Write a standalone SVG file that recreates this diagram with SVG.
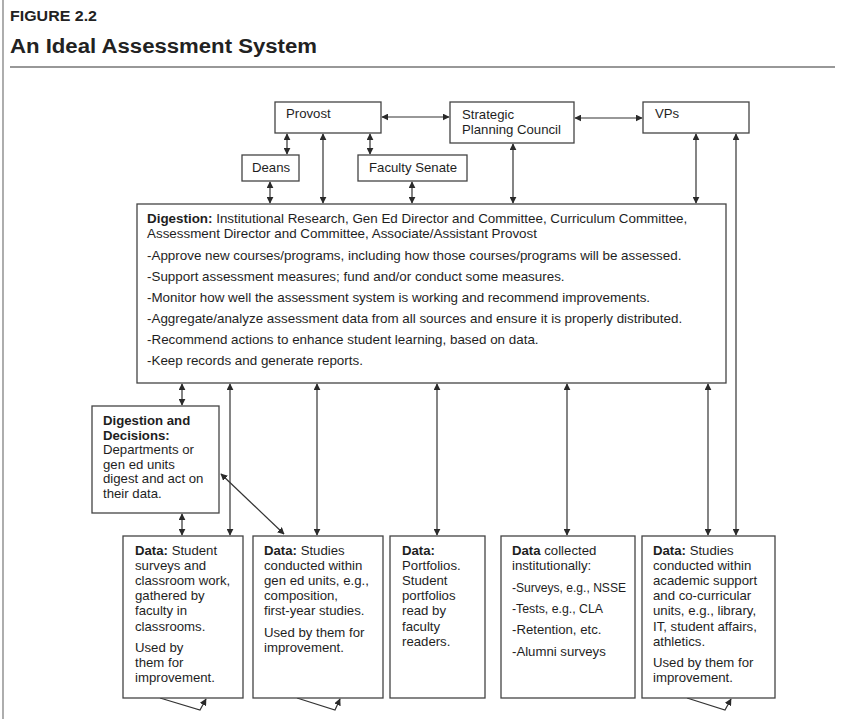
<svg xmlns="http://www.w3.org/2000/svg" width="841" height="719" viewBox="0 0 841 719">
<defs>
<marker id="ah" viewBox="0 0 10 10" refX="9" refY="5" markerWidth="7" markerHeight="7" markerUnits="userSpaceOnUse" orient="auto-start-reverse">
<path d="M0,0 L10,5 L0,10 Z" fill="#2a2a2a"/>
</marker>
</defs>
<style>
.box{fill:#fff;stroke:#444;stroke-width:1.3}
.t{font-family:"Liberation Sans",Arial,sans-serif;font-size:13.2px;fill:#1e1e1e}
.d{font-size:13.4px}
.b{font-weight:bold}
.c{fill:none;stroke:#333;stroke-width:1.2}
</style>
<rect x="0" y="0" width="841" height="719" fill="#fff"/>
<line x1="3" y1="0" x2="3" y2="719" stroke="#777" stroke-width="1.2"/>
<text x="10" y="21" font-family="Liberation Sans, Arial, sans-serif" font-size="14" font-weight="bold" fill="#222" textLength="87" lengthAdjust="spacingAndGlyphs">FIGURE 2.2</text>
<text x="10" y="53" font-family="Liberation Sans, Arial, sans-serif" font-size="20" font-weight="bold" fill="#222" textLength="307" lengthAdjust="spacingAndGlyphs">An Ideal Assessment System</text>
<line x1="10" y1="67" x2="835" y2="67" stroke="#333" stroke-width="1.2"/>

<g id="connectors">
<line class="c" x1="382" y1="117" x2="449" y2="117" marker-start="url(#ah)" marker-end="url(#ah)"/>
<line class="c" x1="575" y1="118" x2="642" y2="118" marker-start="url(#ah)" marker-end="url(#ah)"/>
<line class="c" x1="287" y1="134" x2="287" y2="154" marker-start="url(#ah)" marker-end="url(#ah)"/>
<line class="c" x1="370" y1="134" x2="370" y2="154" marker-start="url(#ah)" marker-end="url(#ah)"/>
<line class="c" x1="323" y1="134" x2="323" y2="203" marker-start="url(#ah)" marker-end="url(#ah)"/>
<line class="c" x1="270" y1="182" x2="270" y2="203" marker-start="url(#ah)" marker-end="url(#ah)"/>
<line class="c" x1="412" y1="182" x2="412" y2="203" marker-start="url(#ah)" marker-end="url(#ah)"/>
<line class="c" x1="513" y1="144" x2="513" y2="203" marker-start="url(#ah)" marker-end="url(#ah)"/>
<line class="c" x1="696" y1="134" x2="696" y2="203" marker-start="url(#ah)" marker-end="url(#ah)"/>
<line class="c" x1="736" y1="134" x2="736" y2="535" marker-start="url(#ah)" marker-end="url(#ah)"/>
<line class="c" x1="182" y1="384" x2="182" y2="405" marker-start="url(#ah)" marker-end="url(#ah)"/>
<line class="c" x1="230" y1="384" x2="230" y2="535" marker-start="url(#ah)" marker-end="url(#ah)"/>
<line class="c" x1="317" y1="384" x2="317" y2="535" marker-start="url(#ah)" marker-end="url(#ah)"/>
<line class="c" x1="437" y1="384" x2="437" y2="535" marker-start="url(#ah)" marker-end="url(#ah)"/>
<line class="c" x1="567" y1="384" x2="567" y2="535" marker-start="url(#ah)" marker-end="url(#ah)"/>
<line class="c" x1="708" y1="384" x2="708" y2="535" marker-start="url(#ah)" marker-end="url(#ah)"/>
<line class="c" x1="182" y1="514" x2="182" y2="535" marker-start="url(#ah)" marker-end="url(#ah)"/>
<line class="c" x1="221" y1="474" x2="284" y2="534" marker-start="url(#ah)" marker-end="url(#ah)"/>
<path class="c" d="M160,698 L200,710 L206,699" marker-end="url(#ah)"/>
<path class="c" d="M297,698 L335,710 L340,699" marker-end="url(#ah)"/>
<path class="c" d="M687,698 L725,710 L731,699" marker-end="url(#ah)"/>
</g>

<g id="provost">
<rect class="box" x="275" y="102" width="106" height="31"/>
<text class="t" x="286" y="118">Provost</text>
</g>
<g id="spc">
<rect class="box" x="450" y="102" width="124" height="41"/>
<text class="t" x="462" y="119">Strategic</text>
<text class="t" x="462" y="134">Planning Council</text>
</g>
<g id="vps">
<rect class="box" x="643" y="102" width="106" height="31"/>
<text class="t" x="655" y="118">VPs</text>
</g>
<g id="deans">
<rect class="box" x="242" y="155" width="57" height="26"/>
<text class="t" x="252" y="172">Deans</text>
</g>
<g id="senate">
<rect class="box" x="358" y="155" width="109" height="26"/>
<text class="t" x="369" y="172">Faculty Senate</text>
</g>
<g id="digestion">
<rect class="box" x="137" y="204" width="589" height="179"/>
<text class="t d" x="147" y="223"><tspan class="b">Digestion:</tspan> Institutional Research, Gen Ed Director and Committee, Curriculum Committee,</text>
<text class="t d" x="147" y="238">Assessment Director and Committee, Associate/Assistant Provost</text>
<text class="t d" x="147" y="260">-Approve new courses/programs, including how those courses/programs will be assessed.</text>
<text class="t d" x="147" y="281">-Support assessment measures; fund and/or conduct some measures.</text>
<text class="t d" x="147" y="302">-Monitor how well the assessment system is working and recommend improvements.</text>
<text class="t d" x="147" y="323">-Aggregate/analyze assessment data from all sources and ensure it is properly distributed.</text>
<text class="t d" x="147" y="344">-Recommend actions to enhance student learning, based on data.</text>
<text class="t d" x="147" y="365">-Keep records and generate reports.</text>
</g>
<g id="decisions">
<rect class="box" x="92" y="406" width="127" height="107"/>
<text class="t b" x="103" y="425">Digestion and</text>
<text class="t b" x="103" y="440">Decisions:</text>
<text class="t" x="103" y="454">Departments or</text>
<text class="t" x="103" y="469">gen ed units</text>
<text class="t" x="103" y="483">digest and act on</text>
<text class="t" x="103" y="498">their data.</text>
</g>
<g id="data1">
<rect class="box" x="123" y="536" width="120" height="162"/>
<text class="t" x="135" y="555"><tspan class="b">Data:</tspan> Student</text>
<text class="t" x="135" y="570">surveys and</text>
<text class="t" x="135" y="585">classroom work,</text>
<text class="t" x="135" y="600">gathered by</text>
<text class="t" x="135" y="615">faculty in</text>
<text class="t" x="135" y="631">classrooms.</text>
<text class="t" x="135" y="652">Used by</text>
<text class="t" x="135" y="667">them for</text>
<text class="t" x="135" y="682">improvement.</text>
</g>
<g id="data2">
<rect class="box" x="253" y="536" width="130" height="162"/>
<text class="t" x="264" y="555"><tspan class="b">Data:</tspan> Studies</text>
<text class="t" x="264" y="570">conducted within</text>
<text class="t" x="264" y="585">gen ed units, e.g.,</text>
<text class="t" x="264" y="600">composition,</text>
<text class="t" x="264" y="615">first-year studies.</text>
<text class="t" x="264" y="637">Used by them for</text>
<text class="t" x="264" y="652">improvement.</text>
</g>
<g id="data3">
<rect class="box" x="390" y="536" width="95" height="162"/>
<text class="t b" x="402" y="555">Data:</text>
<text class="t" x="402" y="570">Portfolios.</text>
<text class="t" x="402" y="585">Student</text>
<text class="t" x="402" y="600">portfolios</text>
<text class="t" x="402" y="615">read by</text>
<text class="t" x="402" y="631">faculty</text>
<text class="t" x="402" y="646">readers.</text>
</g>
<g id="data4">
<rect class="box" x="501" y="536" width="134" height="162"/>
<text class="t" x="512" y="555"><tspan class="b">Data</tspan> collected</text>
<text class="t" x="512" y="570">institutionally:</text>
<text class="t" x="512" y="592" textLength="114" lengthAdjust="spacingAndGlyphs">-Surveys, e.g., NSSE</text>
<text class="t" x="512" y="613" textLength="91" lengthAdjust="spacingAndGlyphs">-Tests, e.g., CLA</text>
<text class="t" x="512" y="634">-Retention, etc.</text>
<text class="t" x="512" y="656">-Alumni surveys</text>
</g>
<g id="data5">
<rect class="box" x="642" y="536" width="133" height="162"/>
<text class="t" x="653" y="555"><tspan class="b">Data:</tspan> Studies</text>
<text class="t" x="653" y="570">conducted within</text>
<text class="t" x="653" y="585">academic support</text>
<text class="t" x="653" y="600">and co-curricular</text>
<text class="t" x="653" y="615">units, e.g., library,</text>
<text class="t" x="653" y="631">IT, student affairs,</text>
<text class="t" x="653" y="646">athletics.</text>
<text class="t" x="653" y="667">Used by them for</text>
<text class="t" x="653" y="682">improvement.</text>
</g>
</svg>
